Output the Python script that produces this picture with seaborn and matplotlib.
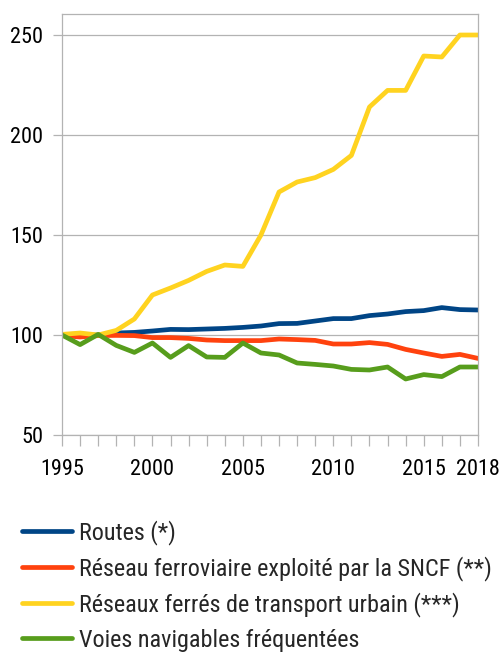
import matplotlib
matplotlib.use('Agg')
import matplotlib.pyplot as plt
import pandas as pd
import seaborn as sns

# Indices base 100 en 1995
years = list(range(1995, 2019))
routes = [100, 99.8, 100, 101, 101.3, 102, 102.8, 102.7, 103, 103.3, 103.8, 104.5,
          105.7, 105.8, 107, 108.2, 108.2, 109.7, 110.5, 111.7, 112.2, 113.7, 112.7, 112.5]
sncf = [99.7, 99, 99.7, 99.8, 99.7, 98.7, 98.7, 98.3, 97.5, 97.2, 97.2, 97.2,
        98, 97.7, 97.3, 95.5, 95.5, 96.2, 95.3, 92.8, 91, 89.3, 90.3, 88.3]
urbain = [100.3, 101, 100, 102.3, 108, 120, 123.5, 127.3, 131.8, 135, 134.3, 150,
          171.5, 176.5, 178.7, 182.8, 189.8, 214, 222.3, 222.3, 239.5, 239, 250, 250]
voies = [100, 95.2, 100.3, 94.8, 91.3, 96, 88.8, 94.7, 89, 88.8, 96, 91,
         90, 86, 85.3, 84.5, 82.8, 82.5, 84, 78, 80.2, 79.2, 84, 84]

labels = ['Routes (*)',
          'Réseau ferroviaire exploité par la SNCF (**)',
          'Réseaux ferrés de transport urbain (***)',
          'Voies navigables fréquentées']
colors = ['#004586', '#ff420e', '#ffd320', '#579d1c']
xtick_labels = {1995: '1995', 2000: '2000', 2005: '2005', 2010: '2010',
                2015: '2015', 2018: '2018'}

df = pd.DataFrame({
    'annee': years * 4,
    'indice': routes + sncf + urbain + voies,
    'serie': sum([[lab] * len(years) for lab in labels], []),
})

sns.set_style('white')
plt.rcParams['font.family'] = ['Liberation Sans Narrow', 'Roboto Condensed',
                               'Archivo Narrow', 'DejaVu Sans']

fig = plt.figure(figsize=(5.03, 6.52), dpi=100)
ax = fig.add_axes([62 / 503, 1 - 435 / 652, 416 / 503, 421 / 652])

sns.lineplot(data=df, x='annee', y='indice', hue='serie', hue_order=labels,
             palette=colors, linewidth=3.4, ax=ax, legend=True)

ax.set_xlim(1995, 2018)
ax.set_ylim(50, 260.5)
ax.set_yticks([50, 100, 150, 200, 250])
ax.set_xticks(years)
ax.set_xticklabels([xtick_labels.get(y, '') for y in years])
ax.grid(axis='y', color='#b3b3b3', linewidth=0.9)
ax.grid(axis='x', visible=False)
ax.set_axisbelow(True)
for s in ax.spines.values():
    s.set_color('#b3b3b3')
    s.set_linewidth(0.9)
ax.tick_params(axis='x', length=8, width=0.9, color='#b3b3b3', pad=9.5,
               labelsize=16, labelcolor='black', bottom=True)
ax.tick_params(axis='y', length=6.5, width=0.9, color='#b3b3b3', pad=7,
               labelsize=16, labelcolor='black', left=True)
ax.set_xlabel('')
ax.set_ylabel('')

handles, labs = ax.get_legend_handles_labels()
ax.legend(handles, labs, loc='upper left', bbox_to_anchor=(12 / 503, 1 - 510 / 652),
          bbox_transform=fig.transFigure, frameon=False, fontsize=17.4,
          handlelength=2.07, handletextpad=0.29, labelspacing=0.47, borderaxespad=0)

fig.savefig('out.png', dpi=100)
